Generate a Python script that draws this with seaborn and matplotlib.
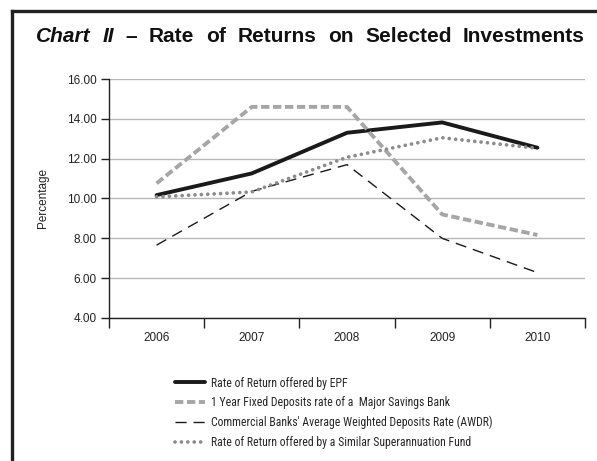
import matplotlib
matplotlib.use("Agg")
import matplotlib.pyplot as plt
import seaborn as sns
import pandas as pd
from matplotlib.lines import Line2D
from matplotlib import font_manager

years = ["2006", "2007", "2008", "2009", "2010"]
epf = [10.17, 11.26, 13.30, 13.82, 12.55]
fixed_dep = [10.76, 14.60, 14.60, 9.20, 8.17]
awdr = [7.66, 10.36, 11.70, 8.00, 6.28]
super_fund = [10.08, 10.33, 12.07, 13.05, 12.52]
series_names = [
    "Rate of Return offered by EPF",
    "1 Year Fixed Deposits rate of a  Major Savings Bank",
    "Commercial Banks' Average Weighted Deposits Rate (AWDR)",
    "Rate of Return offered by a Similar Superannuation Fund",
]
y_ticks = [4, 6, 8, 10, 12, 14, 16]

sns.set_theme(style="white")
plt.rcParams["font.family"] = ["Liberation Sans", "DejaVu Sans"]
plt.rcParams["lines.scale_dashes"] = False

available = {f.name for f in font_manager.fontManager.ttflist}
narrow = None
for cand in ["Liberation Sans Narrow", "Roboto Condensed", "Open Sans Condensed",
             "DejaVu Sans Condensed", "Noto Sans Condensed"]:
    if cand in available:
        narrow = cand
        break
if narrow is None:
    for nm in sorted(available):
        if "Narrow" in nm or "Condensed" in nm:
            narrow = nm
            break
leg_family = [narrow, "DejaVu Sans"] if narrow else ["Liberation Sans", "DejaVu Sans"]

fig = plt.figure(figsize=(5.97, 4.61), dpi=100)
W, H = 597, 461
ax = fig.add_axes([109 / W, 1 - 318 / H, (585 - 109) / W, (318 - 79) / H])

styles = [
    dict(color="#1a1a1a", lw=2.8, ls="-"),
    dict(color="#a6a6a6", lw=2.8, ls=(0, (6.0, 2.6))),
    dict(color="#1a1a1a", lw=1.0, ls=(0, (8.0, 5.0))),
    dict(color="#8c8c8c", lw=2.7, ls=(0, (0.01, 4.6)), dash_capstyle="round"),
]
data = [epf, fixed_dep, awdr, super_fund]
xpos = list(range(len(years)))
handles = []
for name, vals, st in zip(series_names, data, styles):
    df = pd.DataFrame({"x": xpos, "y": vals})
    extra = {}
    if "dash_capstyle" in st:
        extra["dash_capstyle"] = st["dash_capstyle"]
    sns.lineplot(data=df, x="x", y="y", ax=ax, color=st["color"], linewidth=st["lw"],
                 linestyle=st["ls"], legend=False, **extra)
    handles.append(Line2D([0], [0], color=st["color"], lw=st["lw"], ls=st["ls"], **extra))

ax.set_xlim(-0.5, len(years) - 0.5)
ax.set_ylim(4, 16)
ax.set_yticks(y_ticks)
ax.set_yticklabels([f"{v:.2f}" for v in y_ticks], fontsize=8.5, color="#222222")
ax.set_xticks(xpos)
ax.set_xticklabels(years, fontsize=8.5, color="#222222")
ax.set_xticks([i - 0.5 for i in range(len(years) + 1)], minor=True)
ax.tick_params(axis="x", which="major", length=0, pad=10)
ax.tick_params(axis="x", which="minor", length=7, width=1, color="#222222", direction="out", bottom=True)
ax.tick_params(axis="y", length=6, width=1, color="#222222", direction="out", left=True, pad=3)
ax.yaxis.grid(True, color="#b8b8b8", lw=1.0)
ax.xaxis.grid(False)
for s in ["top", "right"]:
    ax.spines[s].set_visible(False)
for s in ["left", "bottom"]:
    ax.spines[s].set_color("#222222")
    ax.spines[s].set_linewidth(1.0)
ax.set_xlabel("")
ax.set_ylabel("Percentage", fontsize=8.5, color="#222222", labelpad=13)

fig.canvas.draw()
r = fig.canvas.get_renderer()

# Fit legend font so the longest entry spans ~279 px
probe = fig.text(0, 0, series_names[2], fontsize=10, family=leg_family)
pw = probe.get_window_extent(r).width
probe.remove()
leg_fs = 10 * 279 / pw
fs_px = leg_fs * 100 / 72
handle_px = 30
text_left = 211
row_gap = 19.7
labelspacing = 0.7
leg = None
for _ in range(4):
    if leg is not None:
        leg.remove()
    leg = fig.legend(handles, series_names, loc="upper left",
                     bbox_to_anchor=(0, 1), frameon=False,
                     handlelength=handle_px / fs_px, handletextpad=6 / fs_px,
                     labelspacing=labelspacing, borderpad=0, borderaxespad=0,
                     prop={"family": leg_family, "size": leg_fs})
    fig.canvas.draw()
    ts = leg.get_texts()
    e0 = ts[0].get_window_extent(r)
    e1 = ts[1].get_window_extent(r)
    cur_gap = (e0.y0 + e0.y1) / 2 - (e1.y0 + e1.y1) / 2
    labelspacing += (row_gap - cur_gap) / fs_px
# position legend so first text starts at x=211 and its centre at y=383
ts = leg.get_texts()
e0 = ts[0].get_window_extent(r)
dx = text_left - e0.x0
dy = (H - 383) - (e0.y0 + e0.y1) / 2
leg.set_bbox_to_anchor((dx / W, 1 + dy / H), transform=fig.transFigure)

# Frame
fig.add_artist(Line2D([11.5 / W, 11.5 / W], [0, 1 - 11.5 / H], color="#222222", lw=2.4,
                      transform=fig.transFigure, solid_capstyle="projecting"))
fig.add_artist(Line2D([11.5 / W, 1], [1 - 11.5 / H, 1 - 11.5 / H], color="#222222", lw=2.4,
                      transform=fig.transFigure, solid_capstyle="projecting"))

# Justified title
title_words = [("Chart", "italic"), ("II", "italic"), ("–", "normal"), ("Rate", "normal"),
               ("of", "normal"), ("Returns", "normal"), ("on", "normal"),
               ("Selected", "normal"), ("Investments", "normal")]
x0, x1, ty = 36, 585, 1 - 37 / H
texts = []
for w, style in title_words:
    t = fig.text(0, ty, w, fontsize=15, fontweight="bold", fontstyle=style,
                 va="center", ha="left", color="#111111")
    texts.append(t)
widths = [t.get_window_extent(r).width for t in texts]
gap = (x1 - x0 - sum(widths)) / (len(texts) - 1)
cx = x0
for t, wd in zip(texts, widths):
    t.set_x(cx / W)
    cx += wd + gap

fig.savefig("out.png", dpi=100)
